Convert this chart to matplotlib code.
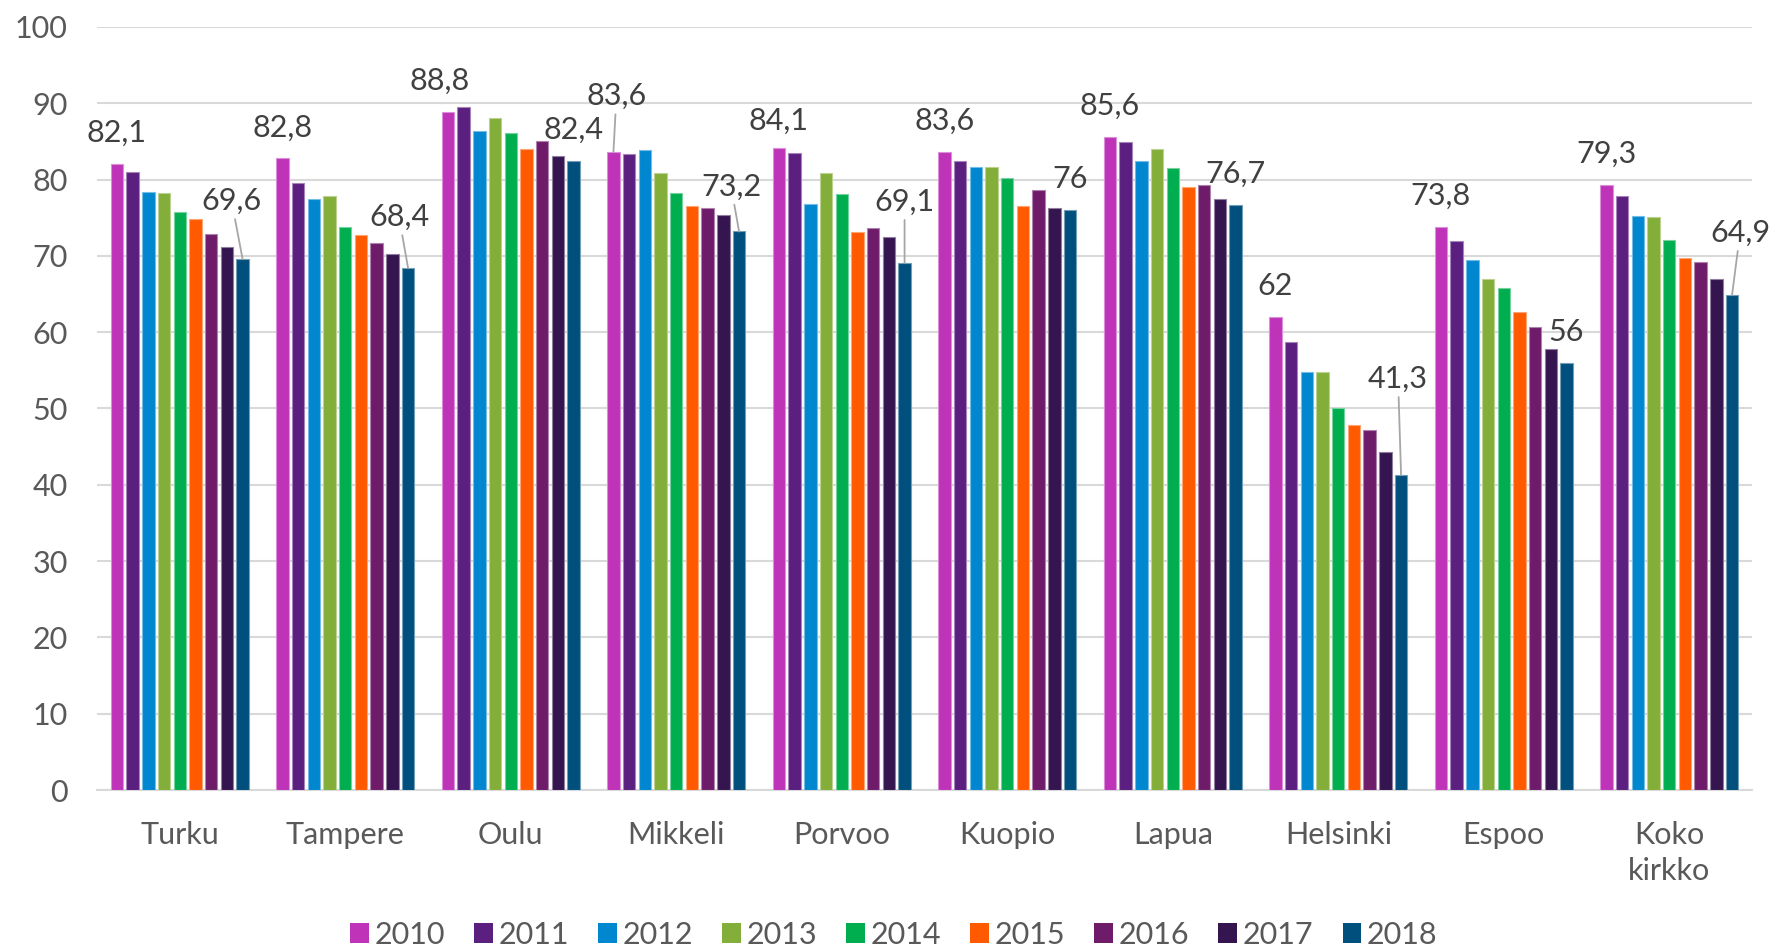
import matplotlib
matplotlib.use("Agg")
import matplotlib.pyplot as plt
from matplotlib.patches import Patch
import numpy as np

plt.rcParams['font.family'] = ['Lato', 'DejaVu Sans']

categories = ["Turku", "Tampere", "Oulu", "Mikkeli", "Porvoo", "Kuopio",
              "Lapua", "Helsinki", "Espoo", "Koko\nkirkko"]
years = ["2010", "2011", "2012", "2013", "2014", "2015", "2016", "2017", "2018"]

v2010 = [82.1, 82.8, 88.8, 83.6, 84.1, 83.6, 85.6, 62.0, 73.8, 79.3]
v2011 = [81.0, 79.6, 89.5, 83.3, 83.5, 82.4, 84.9, 58.7, 71.9, 77.8]
v2012 = [78.4, 77.5, 86.4, 83.9, 76.8, 81.6, 82.4, 54.8, 69.5, 75.2]
v2013 = [78.3, 77.8, 88.1, 80.8, 80.9, 81.7, 84.0, 54.8, 67.0, 75.1]
v2014 = [75.7, 73.8, 86.1, 78.2, 78.1, 80.2, 81.5, 50.1, 65.8, 72.1]
v2015 = [74.9, 72.8, 84.0, 76.5, 73.1, 76.6, 79.0, 47.8, 62.7, 69.7]
v2016 = [72.9, 71.7, 85.0, 76.3, 73.7, 78.7, 79.3, 47.2, 60.7, 69.2]
v2017 = [71.2, 70.3, 83.1, 75.4, 72.5, 76.3, 77.4, 44.3, 57.8, 67.0]
v2018 = [69.6, 68.4, 82.4, 73.2, 69.1, 76.0, 76.7, 41.3, 56.0, 64.9]
series = [v2010, v2011, v2012, v2013, v2014, v2015, v2016, v2017, v2018]

colors = ["#BF33B9", "#5B1F80", "#0087D0", "#84AE3A", "#00AD4F",
          "#FF5A00", "#6E1C6A", "#35154F", "#004F7C"]

# label placement (pixel offsets of label centre from bar top, leader flag)
label_default = (0, 31, False)
label_layout = {
    (0, 8): (-11, 58, True),
    (1, 0): (0, 30, False),
    (1, 8): (-9, 51, True),
    (2, 0): (-8, 32, False),
    (2, 8): (0, 32, False),
    (3, 0): (3, 56, True),
    (3, 8): (-8, 45, True),
    (4, 0): (0, 28, False),
    (4, 8): (0, 61, True),
    (7, 8): (-3, 96, True),
    (9, 8): (8, 62, True),
}

W, H = 1772, 947
fig = plt.figure(figsize=(W / 100, H / 100), dpi=100)
ax = fig.add_axes([97 / W, 1 - 790 / H, (1752 - 97) / W, (790 - 27) / H])

x = np.arange(len(categories))
pitch = 0.0949
width = 0.0755


def lighten(c, f=0.35):
    rgb = np.array(matplotlib.colors.to_rgb(c))
    return tuple(rgb + (1 - rgb) * f)


for i, (vals, col, yr) in enumerate(zip(series, colors, years)):
    xs = x + (i - 4) * pitch
    ax.bar(xs, vals, width=width, color=col, edgecolor=lighten(col, 0.45),
           linewidth=0.8, label=yr, zorder=3)
    if i in (0, 8):
        for ci, (xx, vv) in enumerate(zip(xs, vals)):
            dx, dy, leader = label_layout.get((ci, i), label_default)
            txt = ("%g" % vv).replace(".", ",")
            kw = {}
            if leader:
                kw["arrowprops"] = dict(arrowstyle="-", color="#A6A6A6",
                                        lw=1.3, shrinkA=1, shrinkB=0)
            ax.annotate(txt, xy=(xx, vv), xytext=(dx, dy),
                        textcoords="offset pixels", ha="center", va="center",
                        fontsize=22, color="#404040", zorder=5, **kw)

ax.set_xlim(-0.5, len(categories) - 0.5)
ax.set_ylim(0, 100)
ax.set_yticks(np.arange(0, 101, 10))
ax.set_xticks(x)
ax.set_xticklabels(categories, fontsize=22, color="#595959", linespacing=1.36)
ax.tick_params(axis="y", length=0, pad=21, labelsize=22, labelcolor="#595959")
ax.tick_params(axis="x", length=0, pad=22)
ax.grid(axis="y", color="#D9D9D9", linewidth=1.5, zorder=0)
ax.set_axisbelow(True)
for s in ["top", "right", "left"]:
    ax.spines[s].set_visible(False)
ax.spines["bottom"].set_color("#D9D9D9")
ax.spines["bottom"].set_linewidth(1.5)

handles = [Patch(facecolor=c, edgecolor="none") for c in colors]
fig.legend(handles, years, loc="lower center", bbox_to_anchor=(0.5045, -0.018),
           ncol=9, frameon=False, fontsize=22, labelcolor="#595959",
           handlelength=0.6, handleheight=0.6, handletextpad=0.2,
           columnspacing=0.95, borderpad=0.0)

fig.savefig("out.png", dpi=100)
